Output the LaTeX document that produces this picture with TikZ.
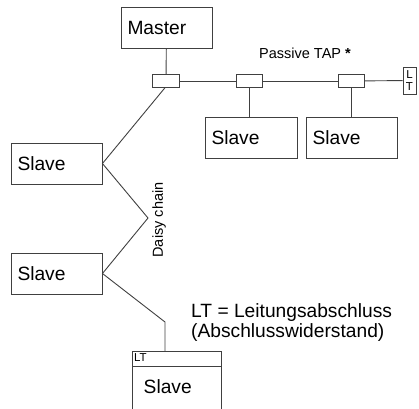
\documentclass[tikz,border=0pt]{standalone}
\usepackage{fontspec}
\setmainfont{Liberation Sans}
\begin{document}
\begin{tikzpicture}[x=1pt,y=-1pt,
 line/.style={draw=black!75, line width=0.9pt},
 bigfont/.style={font=\fontsize{19.2}{20}\selectfont},
 box/.style={line, rectangle, minimum height=41pt, text width=78pt, inner xsep=6.5pt, inner ysep=0pt, align=left, bigfont},
 tapbox/.style={line, rectangle, minimum width=27pt, minimum height=12.5pt, inner sep=0pt},
 smallfont/.style={font=\fontsize{14.5}{17}\selectfont}]
\clip (0,0) rectangle (419,408);
% boxes
\node[box] (master) at (166.5,27.5) {Master};
\node[tapbox] (tap1) at (166,81) {};
\node[tapbox, minimum width=26pt] (tap2) at (249,81) {};
\node[tapbox, minimum width=26pt] (tap3) at (351,81) {};
\node[line, rectangle, minimum width=13pt, minimum height=27pt, inner sep=0pt, align=center, font=\fontsize{11.5}{12.5}\selectfont] (ltside) at (409.5,80.5) {L\\T};
\node[box, text width=79pt] (slaveA) at (251,138) {Slave};
\node[box] (slaveB) at (351.5,138) {Slave};
\node[box] (slave1) at (56.5,163.5) {Slave};
\node[box] (slave2) at (56.5,273.5) {Slave};
\node[line, rectangle, minimum width=89pt, minimum height=80pt, inner sep=0pt, anchor=north west] (ltbox) at (132,351) {};
\draw[line] (ltbox.north west) ++(0,15) coordinate (dl) -- (dl -| ltbox.east);
\node[anchor=north west, font=\fontsize{11.5}{12}\selectfont, inner sep=0pt] (ltlabel) at ([shift={(2,2)}]ltbox.north west) {LT};
\node[bigfont, anchor=west, inner sep=0pt] (bslave) at (143.5,387) {Slave};
% texts
\node[smallfont] (ptap) at (305,53) {Passive TAP \textbf{*}};
\node[smallfont, rotate=90] (dc) at (159,220) {Daisy chain};
\node[bigfont, anchor=west, align=left, inner sep=0pt] (legend) at (191,323) {LT = Leitungsabschluss\\(Abschlusswiderstand)};
% connectors
\coordinate (k) at (148,218);
\coordinate (m) at (165,322);
\draw[line] (master) -- (tap1);
\draw[line] (tap1) -- (tap2);
\draw[line] (tap2) -- (tap3);
\draw[line] (tap3) -- (ltside);
\draw[line] (tap2.south) -- (tap2.south |- slaveA.north);
\draw[line] (tap3.south) -- (tap3.south |- slaveB.north);
\draw[line] ([xshift=-1pt]tap1.south) -- (slave1.east) -- (k) -- (slave2.east) -- (m) -- (m |- ltbox.north);
\end{tikzpicture}
\end{document}
